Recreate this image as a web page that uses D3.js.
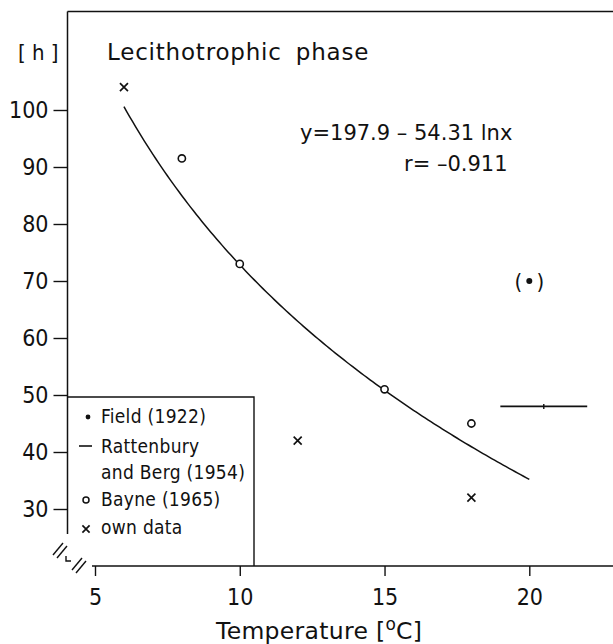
<!DOCTYPE html>
<html><head><meta charset="utf-8">
<script src="https://cdn.jsdelivr.net/npm/d3@7"></script>
<style>
body{margin:0;background:#fff;}
svg text{font-family:"DejaVu Sans";fill:#111;}
</style></head>
<body><svg id="c" width="613" height="644"></svg>
<script>
// data
const xTicks = [5, 10, 15, 20];
const yTicks = [30, 40, 50, 60, 70, 80, 90, 100];
const ownData = [[6, 104], [12, 42], [18, 32]];
const bayne = [[8, 91.5], [10, 73], [15, 51], [18, 45]];
const field = [[20, 70]];
const rattenbury = [[19, 22, 48, 20.5]]; // x from, x to, value, centre
const fitA = 197.9, fitB = 54.31;
const fitRange = [6, 20];
const legendLabels = ["Field (1922)", "Rattenbury", "and Berg (1954)", "Bayne (1965)", "own data"];

const svg = d3.select("#c");
const x = d3.scaleLinear().domain([5, 20]).range([95, 529.3]);
const y = d3.scaleLinear().domain([30, 100]).range([509, 110]);
const ink = "#111";

// frame lines
svg.append("line").attr("x1", 67.5).attr("x2", 613).attr("y1", 11.5).attr("y2", 11.5).attr("stroke", ink).attr("stroke-width", 1.4);
svg.append("line").attr("x1", 67.5).attr("x2", 67.5).attr("y1", 11.5).attr("y2", 534).attr("stroke", ink).attr("stroke-width", 1.5);
svg.append("line").attr("x1", 92).attr("x2", 613).attr("y1", 566).attr("y2", 566).attr("stroke", ink).attr("stroke-width", 1.5);

// axes
const ya = svg.append("g").attr("transform", "translate(67.5,0)")
  .call(d3.axisLeft(y).tickValues(yTicks).tickSize(14).tickPadding(5).tickFormat(d3.format("d")));
ya.select(".domain").remove();
ya.selectAll("line").attr("stroke", ink).attr("stroke-width", 1.4);
ya.selectAll("text").attr("font-size", 23).attr("font-family", "DejaVu Sans").style("font-stretch", "condensed").attr("fill", ink);

const xa = svg.append("g").attr("transform", "translate(0,566)")
  .call(d3.axisBottom(x).tickValues(xTicks).tickSize(10).tickPadding(13).tickFormat(d3.format("d")));
xa.select(".domain").remove();
xa.selectAll("line").attr("stroke", ink).attr("stroke-width", 1.4);
xa.selectAll("text").attr("font-size", 23).attr("font-family", "DejaVu Sans").style("font-stretch", "condensed").attr("fill", ink);

// axis break marks
const brk = svg.append("g").attr("stroke", ink).attr("stroke-width", 1.4).attr("fill", "none");
[[58, 549], [62, 552], [77, 564], [81, 567]].forEach(([cx, cy]) => {
  brk.append("line").attr("x1", cx - 5).attr("y1", cy + 6).attr("x2", cx + 5).attr("y2", cy - 6);
});
brk.append("path").attr("d", "M66,556 L66,561 L71,561");

// axis titles
svg.append("text").attr("x", 18).attr("y", 60).attr("font-size", 22).style("font-stretch", "condensed").text("[ h ]");
svg.append("text").attr("x", 107).attr("y", 60).attr("font-size", 23).style("letter-spacing", "0.8px").style("word-spacing", "6px").text("Lecithotrophic phase");
const xt = svg.append("text").attr("x", 216).attr("y", 639).attr("font-size", 23.5).style("letter-spacing", "0.3px");
xt.append("tspan").text("Temperature [");
xt.append("tspan").attr("font-size", 17).attr("dy", -9).text("o");
xt.append("tspan").attr("dy", 9).text("C]");

// equation
svg.append("text").attr("x", 300).attr("y", 140).attr("font-size", 21).text("y=197.9 – 54.31 lnx");
svg.append("text").attr("x", 404).attr("y", 171).attr("font-size", 21).text("r= –0.911");

// fitted curve
const curveData = d3.range(fitRange[0], fitRange[1] + 0.001, 0.1).map(t => [t, fitA - fitB * Math.log(t)]);
svg.append("path").datum(curveData)
  .attr("d", d3.line().x(d => x(d[0])).y(d => y(d[1])))
  .attr("fill", "none").attr("stroke", ink).attr("stroke-width", 1.5);

// own data crosses
function cross(g, cx, cy, s) {
  g.append("path").attr("d", `M${cx - s},${cy - s}L${cx + s},${cy + s}M${cx - s},${cy + s}L${cx + s},${cy - s}`)
    .attr("stroke", ink).attr("stroke-width", 1.7).attr("fill", "none");
}
const pts = svg.append("g");
ownData.forEach(d => cross(pts, x(d[0]), y(d[1]), 4));

// Bayne circles
pts.selectAll("circle.bayne").data(bayne).join("circle").attr("class", "bayne")
  .attr("cx", d => x(d[0])).attr("cy", d => y(d[1])).attr("r", 3.6)
  .attr("fill", "#fff").attr("stroke", ink).attr("stroke-width", 1.6);

// Field dot in brackets
field.forEach(d => {
  pts.append("circle").attr("cx", x(d[0])).attr("cy", y(d[1])).attr("r", 3).attr("fill", ink);
  pts.append("text").attr("x", x(d[0]) - 11).attr("y", y(d[1]) + 8).attr("text-anchor", "middle")
    .attr("font-size", 22).style("font-stretch", "condensed").text("(");
  pts.append("text").attr("x", x(d[0]) + 11).attr("y", y(d[1]) + 8).attr("text-anchor", "middle")
    .attr("font-size", 22).style("font-stretch", "condensed").text(")");
});

// Rattenbury range line
rattenbury.forEach(d => {
  pts.append("line").attr("x1", x(d[0])).attr("x2", x(d[1])).attr("y1", y(d[2])).attr("y2", y(d[2]))
    .attr("stroke", ink).attr("stroke-width", 1.6);
  pts.append("line").attr("x1", x(d[3])).attr("x2", x(d[3])).attr("y1", y(d[2]) - 2.5).attr("y2", y(d[2]) + 2.5)
    .attr("stroke", ink).attr("stroke-width", 1.4);
});

// legend
const lg = svg.append("g");
lg.append("path").attr("d", "M67.5,397 L254,397 L254,566").attr("fill", "none").attr("stroke", ink).attr("stroke-width", 1.4);
const ly = [423, 453, 479, 506, 534];
legendLabels.forEach((t, i) => {
  lg.append("text").attr("x", 101).attr("y", ly[i]).attr("font-size", 19).style("font-stretch", "condensed").style("letter-spacing", "0.3px").text(t);
});
lg.append("circle").attr("cx", 88).attr("cy", 417).attr("r", 2.4).attr("fill", ink);
lg.append("line").attr("x1", 79).attr("x2", 92).attr("y1", 446).attr("y2", 446).attr("stroke", ink).attr("stroke-width", 1.6);
lg.append("circle").attr("cx", 86).attr("cy", 500).attr("r", 3).attr("fill", "#fff").attr("stroke", ink).attr("stroke-width", 1.5);
cross(lg, 86, 529, 3.6);
</script></body></html>
